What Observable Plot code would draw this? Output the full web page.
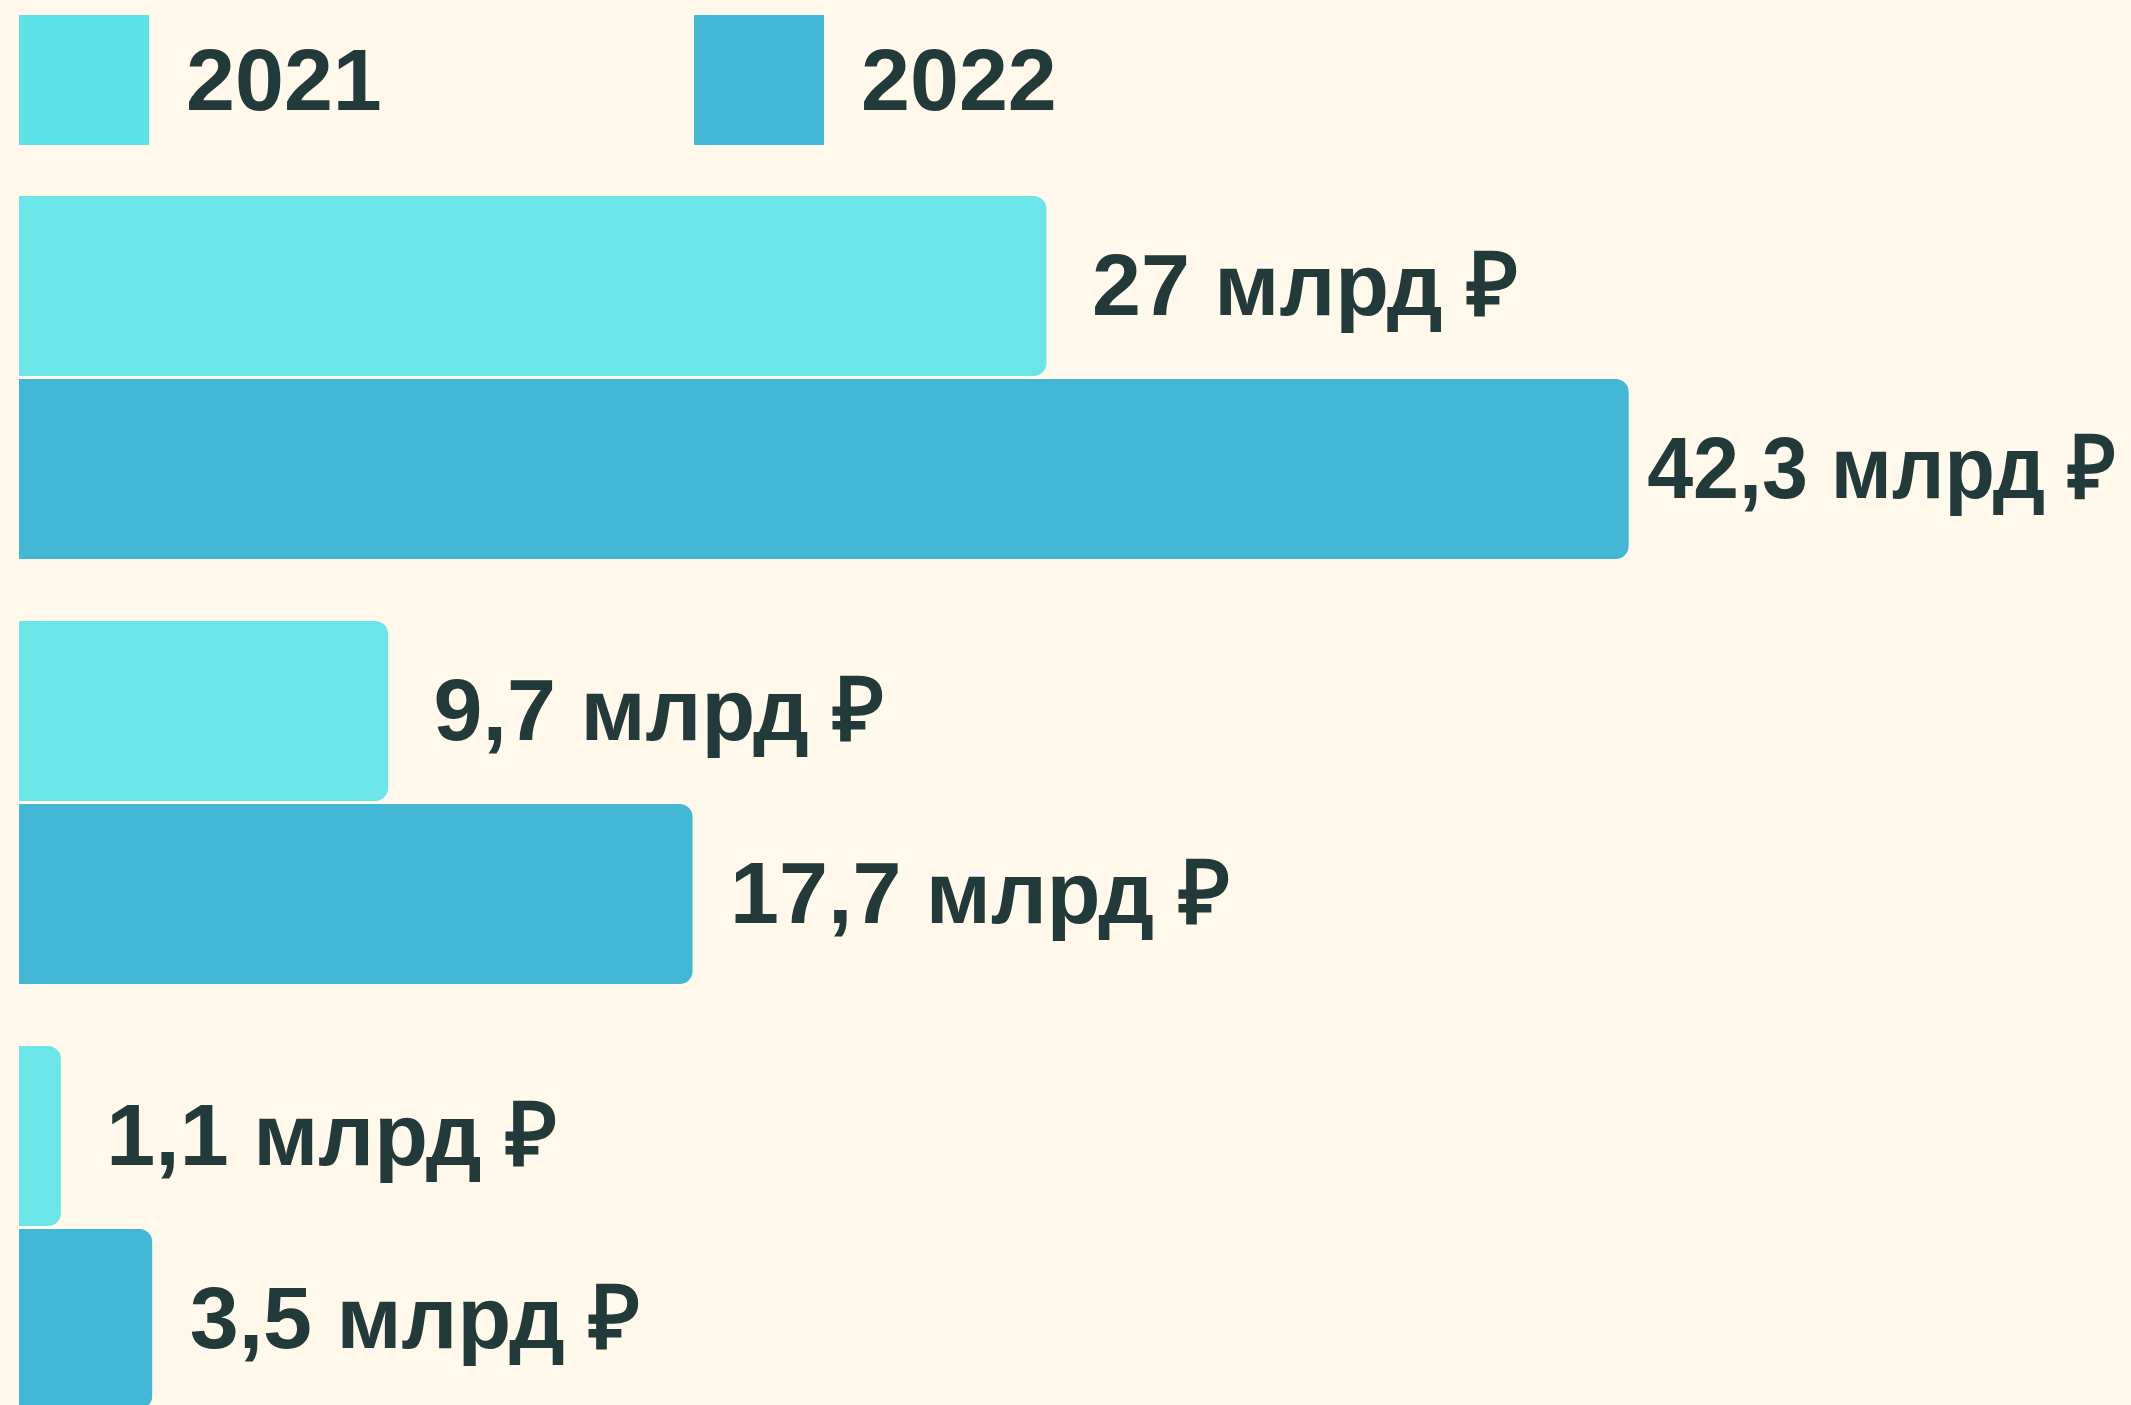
<!DOCTYPE html>
<html>
<head>
<meta charset="utf-8">
<script src="https://cdn.jsdelivr.net/npm/d3@7"></script>
<script src="https://cdn.jsdelivr.net/npm/@observablehq/plot@0.6"></script>
<style>
  html, body { margin: 0; padding: 0; background: #fff8eb; overflow: hidden; }
  body { width: 2131px; height: 1405px; font-family: "Liberation Sans", Arial, sans-serif; }
  #legend { position: relative; height: 165px; }
  .sw { position: absolute; top: 15px; width: 130px; height: 130px; }
  .lt { position: absolute; top: 15px; height: 130px; line-height: 130px; font-size: 88px; font-weight: bold; color: #223a3a; }
  #chart svg { display: block; }
</style>
</head>
<body>
<div id="legend"></div>
<div id="chart"></div>
<script>
// ---- data ----
const categories = ["Группа 1", "Группа 2", "Группа 3"];
const years = ["2021", "2022"];
const values2021 = [27, 9.7, 1.1];
const values2022 = [42.3, 17.7, 3.5];
const unitLabel = "млрд ₽";
const barColors = ["#6be6e8", "#42b7d6"];
const legendColors = ["#5ce1e6", "#42b7d6"];

const rows = [];
categories.forEach((c, i) => {
  rows.push({group: c, year: years[0], value: values2021[i]});
  rows.push({group: c, year: years[1], value: values2022[i]});
});
const fmt = v => String(v).replace(".", ",") + " " + unitLabel;

// ---- legend ----
const legend = document.getElementById("legend");
const legendX = [[19, 186], [694, 861]];
years.forEach((y, i) => {
  const sw = document.createElement("div");
  sw.className = "sw";
  sw.style.left = legendX[i][0] + "px";
  sw.style.background = legendColors[i];
  legend.appendChild(sw);
  const t = document.createElement("div");
  t.className = "lt";
  t.style.left = legendX[i][1] + "px";
  t.textContent = y;
  legend.appendChild(t);
});

// ---- chart ----
const W = 2131;
const labelStyle = {
  fy: "group", y: "year", x: "value", text: d => fmt(d.value),
  textAnchor: "start", fontSize: 88, fontWeight: "bold",
  fill: "#223a3a", lineAnchor: "middle"
};
const DX = [45, 37];
const chart = Plot.plot({
  width: W,
  height: 1247,
  marginLeft: 19,
  marginRight: 0,
  marginTop: 30,
  marginBottom: 0,
  style: {background: "transparent", overflow: "visible", fontFamily: "Liberation Sans, Arial, sans-serif"},
  x: {domain: [0, 55.5], axis: null},
  y: {domain: years, axis: null, paddingInner: 0.0163, paddingOuter: 0},
  fy: {domain: categories, axis: null, paddingInner: 0.143, paddingOuter: 0},
  color: {domain: years, range: barColors},
  marks: [
    Plot.barX(rows, {
      fy: "group", y: "year", x1: 0, x2: "value",
      fill: "year", rx: 13, insetLeft: -20, clip: true
    }),
    Plot.text(rows.filter(d => d.year === years[0]), {...labelStyle, dx: DX[0]}),
    Plot.text(rows.filter(d => d.year === years[1]), {...labelStyle, dx: DX[1], className: "lab2022"})
  ]
});
document.getElementById("chart").appendChild(chart);

// labels that would run past the right edge: move closer to the bar and condense to fit
const limit = W - 15;
const tightGap = 18;
chart.querySelectorAll("text").forEach(t => {
  const b = t.getBoundingClientRect();
  if (b.right > limit) {
    const dxUsed = t.closest(".lab2022") ? DX[1] : DX[0];
    const shift = dxUsed - tightGap;
    const pm = t.parentNode.getScreenCTM();
    const leftLocal = b.left - pm.e;
    const newLeftLocal = leftLocal - shift;
    const s = (limit - (b.left - shift)) / b.width;
    const orig = t.getAttribute("transform") || "";
    t.setAttribute("transform",
      `translate(${newLeftLocal},0) scale(${s.toFixed(4)},1) translate(${-leftLocal},0) ${orig}`.trim());
  }
});
</script>
</body>
</html>
